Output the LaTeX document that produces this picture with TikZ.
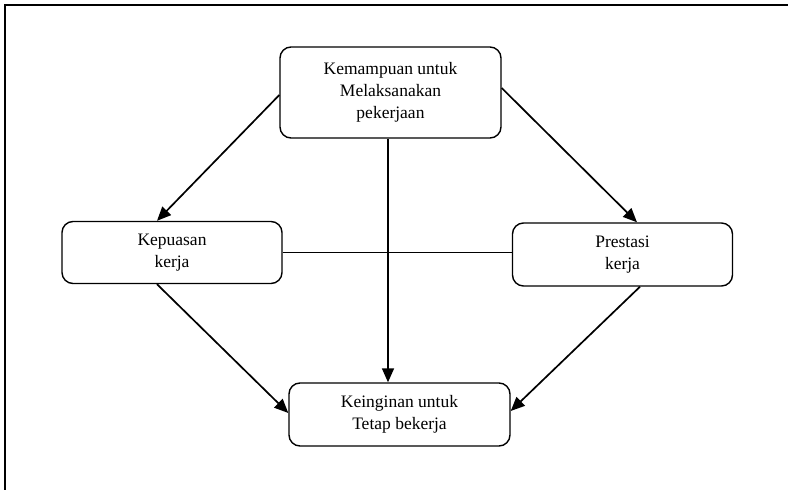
\documentclass[tikz,border=0pt]{standalone}
\usepackage{fontspec}
\setmainfont{Liberation Serif}
\usetikzlibrary{arrows.meta}

\begin{document}
\begin{tikzpicture}[x=1pt,y=-1pt,
    box/.style={draw,line width=1.4pt,rounded corners=11pt,align=center,
        inner sep=0pt,font=\fontsize{17.5}{22}\selectfont},
    arr/.style={line width=1.7pt,-{Triangle[length=14pt,width=12pt]}}]
    \useasboundingbox (0,0) rectangle (788,490);
    % Frame
    \draw[line width=1.8pt] (5,490) -- (5,5) -- (788,5);
    % Boxes
    \node[box,minimum width=221pt,minimum height=91pt] (ability) at (390.5,92.5)
        {Kemampuan untuk\\Melaksanakan\\pekerjaan};
    \node[box,minimum width=220pt,minimum height=62pt] (satisf) at (172,252.5)
        {Kepuasan\\kerja};
    \node[box,minimum width=220pt,minimum height=63pt] (perform) at (622.5,254.5)
        {Prestasi\\kerja};
    \node[box,minimum width=221pt,minimum height=63pt] (stay) at (399.5,414.5)
        {Keinginan untuk\\Tetap bekerja};
    % Arrows from the top box
    \draw[arr] ([yshift=-2.5pt]ability.west) -- ([xshift=-15pt]satisf.north);
    \draw[arr] ([yshift=4.5pt]ability.east) -- ([xshift=14.5pt]perform.north);
    \draw[arr] ([xshift=-2.5pt]ability.south) -- ([xshift=-2.5pt]ability.south |- stay.north);
    % Link between the middle boxes
    \draw[line width=1.4pt] (satisf.east) -- (satisf.east -| perform.west);
    % Arrows into the bottom box
    \draw[arr] ([xshift=-15pt]satisf.south) -- ([yshift=1.5pt]stay.west);
    \draw[arr] ([xshift=17.5pt]perform.south) -- ([yshift=3.5pt]stay.east);
\end{tikzpicture}
\end{document}
